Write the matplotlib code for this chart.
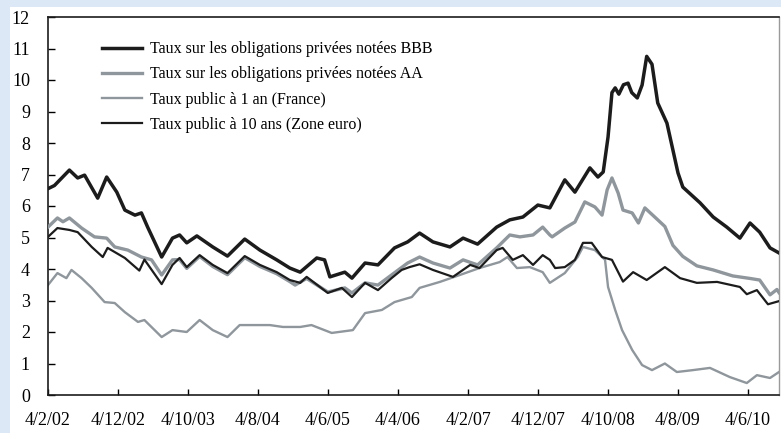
import pandas as pd
import matplotlib
matplotlib.use('Agg')
import matplotlib.pyplot as plt
from matplotlib.patches import Rectangle

plt.rcParams['font.family'] = ['Liberation Serif', 'DejaVu Serif']

# Taux sur les obligations privées notées BBB
bbb_dates = ['2002-02-04', '2002-03-04', '2002-05-08', '2002-06-13', '2002-07-13', '2002-09-08',
             '2002-10-17', '2002-11-30', '2003-01-04', '2003-02-17', '2003-03-17', '2003-04-13',
             '2003-06-13', '2003-07-30', '2003-08-30', '2003-09-30', '2003-11-13', '2004-01-21',
             '2004-03-25', '2004-06-08', '2004-08-13', '2004-10-25', '2004-12-21', '2005-02-04',
             '2005-04-17', '2005-05-21', '2005-06-13', '2005-08-17', '2005-09-17', '2005-11-13',
             '2006-01-08', '2006-03-21', '2006-05-17', '2006-07-08', '2006-09-04', '2006-11-17',
             '2007-01-13', '2007-03-17', '2007-06-08', '2007-08-04', '2007-09-30', '2007-12-04',
             '2008-01-25', '2008-03-30', '2008-05-13', '2008-07-17', '2008-08-21', '2008-09-13',
             '2008-10-04', '2008-10-21', '2008-11-04', '2008-11-20', '2008-12-10', '2008-12-30',
             '2009-01-15', '2009-02-08', '2009-03-01', '2009-03-21', '2009-04-13', '2009-05-08',
             '2009-06-17', '2009-08-04', '2009-08-25', '2009-11-08', '2010-01-04', '2010-03-04',
             '2010-04-30', '2010-06-13', '2010-07-25', '2010-09-08', '2010-10-17']
bbb = [6.55, 6.65, 7.14, 6.89, 6.98, 6.25,
       6.92, 6.44, 5.87, 5.71, 5.78, 5.33,
       4.38, 4.98, 5.08, 4.83, 5.05, 4.70,
       4.41, 4.95, 4.60, 4.29, 4.03, 3.90,
       4.35, 4.29, 3.75, 3.90, 3.71, 4.19,
       4.13, 4.67, 4.86, 5.14, 4.86, 4.70,
       4.98, 4.79, 5.33, 5.56, 5.65, 6.03,
       5.94, 6.83, 6.44, 7.21, 6.92, 7.08,
       8.19, 9.60, 9.75, 9.55, 9.85, 9.90,
       9.60, 9.43, 9.84, 10.75, 10.50, 9.27,
       8.63, 7.05, 6.60, 6.10, 5.65, 5.33,
       4.98, 5.46, 5.17, 4.67, 4.51]

# Taux sur les obligations privées notées AA
aa_dates = ['2002-02-04', '2002-03-17', '2002-04-10', '2002-05-08', '2002-06-30', '2002-08-25',
            '2002-10-17', '2002-11-21', '2003-01-17', '2003-03-17', '2003-04-30', '2003-06-13',
            '2003-07-30', '2003-08-30', '2003-09-30', '2003-11-25', '2004-01-21', '2004-03-25',
            '2004-06-08', '2004-08-13', '2004-10-25', '2004-12-21', '2005-01-13', '2005-03-04',
            '2005-06-04', '2005-08-17', '2005-09-17', '2005-11-13', '2006-01-08', '2006-03-08',
            '2006-05-17', '2006-07-08', '2006-09-04', '2006-11-17', '2007-01-13', '2007-03-17',
            '2007-06-08', '2007-08-04', '2007-09-17', '2007-11-13', '2007-12-25', '2008-01-25',
            '2008-02-04', '2008-03-30', '2008-05-13', '2008-06-25', '2008-08-08', '2008-09-08',
            '2008-09-30', '2008-10-21', '2008-11-17', '2008-12-08', '2009-01-17', '2009-02-13',
            '2009-03-13', '2009-04-25', '2009-06-08', '2009-07-13', '2009-08-25', '2009-10-25',
            '2010-01-04', '2010-03-30', '2010-06-13', '2010-07-25', '2010-09-08', '2010-10-08',
            '2010-10-17']
aa = [5.33, 5.62, 5.50, 5.62, 5.30, 5.02,
      4.98, 4.70, 4.60, 4.38, 4.29, 3.81,
      4.29, 4.30, 4.02, 4.40, 4.08, 3.82,
      4.36, 4.08, 3.85, 3.60, 3.49, 3.70,
      3.27, 3.40, 3.24, 3.56, 3.49, 3.81,
      4.19, 4.38, 4.19, 4.03, 4.29, 4.13,
      4.67, 5.08, 5.02, 5.08, 5.33, 5.08,
      5.02, 5.30, 5.49, 6.13, 5.97, 5.71,
      6.51, 6.89, 6.41, 5.87, 5.78, 5.46,
      5.94, 5.65, 5.35, 4.75, 4.40, 4.10,
      3.97, 3.78, 3.70, 3.65, 3.18, 3.35,
      3.25]

# Taux public à 1 an (France)
fr1_dates = ['2002-02-04', '2002-03-17', '2002-04-25', '2002-05-17', '2002-06-30', '2002-08-13',
             '2002-10-08', '2002-11-21', '2003-01-04', '2003-03-02', '2003-03-30', '2003-06-13',
             '2003-07-30', '2003-09-30', '2003-11-25', '2004-01-21', '2004-03-25', '2004-05-17',
             '2004-07-30', '2004-09-25', '2004-11-21', '2005-02-04', '2005-03-25', '2005-06-21',
             '2005-09-21', '2005-11-13', '2006-01-25', '2006-03-21', '2006-06-04', '2006-07-08',
             '2006-10-04', '2006-12-30', '2007-03-25', '2007-06-21', '2007-07-25', '2007-09-04',
             '2007-10-30', '2007-12-25', '2008-01-25', '2008-03-30', '2008-05-25', '2008-06-17',
             '2008-08-08', '2008-09-21', '2008-10-04', '2008-11-04', '2008-12-04', '2009-01-17',
             '2009-03-01', '2009-04-13', '2009-06-08', '2009-07-30', '2009-10-08', '2009-12-21',
             '2010-03-17', '2010-05-30', '2010-07-13', '2010-09-08', '2010-10-17']
fr1 = [3.49, 3.87, 3.71, 3.97, 3.71, 3.40,
       2.95, 2.92, 2.63, 2.32, 2.38, 1.84,
       2.06, 2.00, 2.38, 2.06, 1.84, 2.22,
       2.22, 2.22, 2.16, 2.16, 2.22, 1.97,
       2.06, 2.60, 2.70, 2.95, 3.11, 3.40,
       3.59, 3.81, 4.03, 4.22, 4.38, 4.03,
       4.06, 3.90, 3.56, 3.87, 4.38, 4.70,
       4.60, 4.29, 3.43, 2.70, 2.06, 1.43,
       0.95, 0.79, 1.00, 0.73, 0.79, 0.86,
       0.57, 0.38, 0.63, 0.54, 0.73]

# Taux public à 10 ans (Zone euro)
eu10_dates = ['2002-02-04', '2002-03-17', '2002-05-08', '2002-06-13', '2002-08-13', '2002-09-30',
              '2002-10-21', '2003-01-04', '2003-03-08', '2003-03-30', '2003-06-13', '2003-07-30',
              '2003-08-30', '2003-09-30', '2003-11-25', '2004-01-21', '2004-03-25', '2004-06-08',
              '2004-08-13', '2004-10-25', '2004-12-21', '2005-02-04', '2005-03-04', '2005-06-04',
              '2005-08-04', '2005-09-17', '2005-11-13', '2006-01-08', '2006-03-08', '2006-04-21',
              '2006-05-25', '2006-07-08', '2006-09-04', '2006-11-30', '2007-02-13', '2007-03-25',
              '2007-06-08', '2007-07-04', '2007-08-17', '2007-09-30', '2007-11-13', '2007-12-25',
              '2008-01-25', '2008-02-17', '2008-03-30', '2008-05-13', '2008-06-17', '2008-07-25',
              '2008-09-08', '2008-10-21', '2008-12-08', '2009-01-21', '2009-03-21', '2009-06-08',
              '2009-08-13', '2009-10-25', '2010-01-21', '2010-04-30', '2010-05-30', '2010-07-13',
              '2010-08-30', '2010-10-17']
eu10 = [5.02, 5.30, 5.24, 5.17, 4.70, 4.38,
        4.67, 4.35, 3.95, 4.30, 3.52, 4.13,
        4.35, 4.06, 4.44, 4.13, 3.87, 4.41,
        4.13, 3.90, 3.65, 3.56, 3.75, 3.24,
        3.40, 3.11, 3.56, 3.33, 3.71, 3.97,
        4.06, 4.15, 3.97, 3.75, 4.13, 4.03,
        4.60, 4.67, 4.29, 4.44, 4.13, 4.44,
        4.29, 4.03, 4.06, 4.29, 4.83, 4.83,
        4.38, 4.29, 3.60, 3.90, 3.65, 4.06,
        3.71, 3.56, 3.59, 3.43, 3.20, 3.33,
        2.88, 2.98]

tick_dates = ['2002-02-04', '2002-12-04', '2003-10-04', '2004-08-04', '2005-06-04', '2006-04-04',
              '2007-02-04', '2007-12-04', '2008-10-04', '2009-08-04', '2010-06-04']
tick_labels = ['4/2/02', '4/12/02', '4/10/03', '4/8/04', '4/6/05', '4/4/06',
               '4/2/07', '4/12/07', '4/10/08', '4/8/09', '4/6/10']

black = '#1c1c1c'
gray = '#8f969c'

fig = plt.figure(figsize=(7.81, 4.33), dpi=100, facecolor='#dde8f6')
# white panel behind the chart, leaving a thin blue border top and left
fig.add_artist(Rectangle((10 / 781, 0), 1, 1 - 7 / 433, transform=fig.transFigure,
                         facecolor='white', edgecolor='none', zorder=-1))
ax = fig.add_axes([48 / 781, 1 - 395 / 433, 731 / 781, 378 / 433])
ax.set_facecolor('white')

ax.plot(pd.to_datetime(bbb_dates), bbb, color=black, lw=2.5, label='Taux sur les obligations privées notées BBB', zorder=5)
ax.plot(pd.to_datetime(aa_dates), aa, color=gray, lw=2.4, label='Taux sur les obligations privées notées AA', zorder=3)
ax.plot(pd.to_datetime(fr1_dates), fr1, color=gray, lw=1.7, label='Taux public à 1 an (France)', zorder=2)
ax.plot(pd.to_datetime(eu10_dates), eu10, color=black, lw=1.6, label='Taux public à 10 ans (Zone euro)', zorder=4)

ax.set_ylim(0, 12)
ax.set_yticks(range(0, 13))
ax.set_xlim(pd.Timestamp('2002-02-04'), pd.Timestamp('2010-10-17'))
ax.set_xticks(pd.to_datetime(tick_dates))
ax.set_xticklabels(tick_labels)
ax.tick_params(axis='y', direction='in', length=5, width=1, pad=13, labelsize=13)
ax.tick_params(axis='x', direction='in', length=4, width=1, pad=12, labelsize=13)
for side in ['left', 'bottom', 'top']:
    ax.spines[side].set_color(black)
    ax.spines[side].set_linewidth(1.2)
ax.spines['right'].set_color('#9a9a9a')
ax.spines['right'].set_linewidth(1.0)

ax.legend(loc='upper left', bbox_to_anchor=(0.0739, 0.936), frameon=False, fontsize=11.5,
          handlelength=2.5, handletextpad=0.5, labelspacing=0.58, borderpad=0, borderaxespad=0)

fig.savefig('out.png', dpi=100, facecolor=fig.get_facecolor())
